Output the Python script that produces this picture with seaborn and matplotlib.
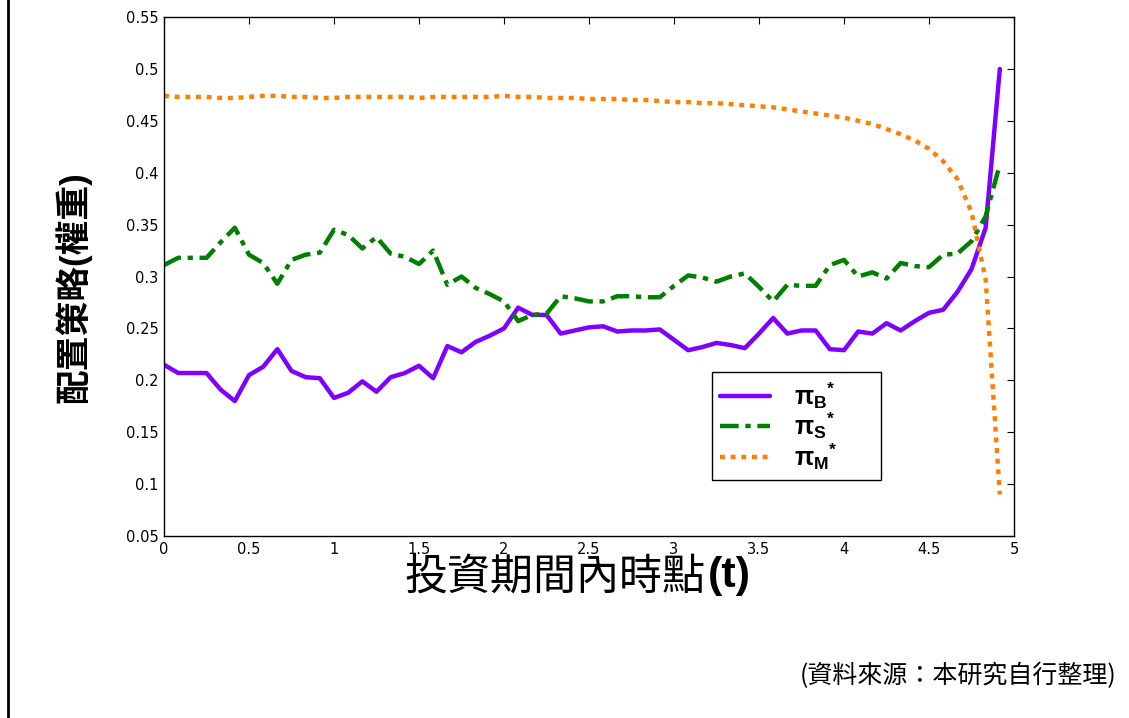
import numpy as np
import pandas as pd
import matplotlib
matplotlib.use("Agg")
import matplotlib.pyplot as plt
import seaborn as sns
from matplotlib.lines import Line2D
from matplotlib.ticker import MultipleLocator, FuncFormatter

# ---------------- data ----------------
months = list(range(60))
t = [m / 12 for m in months]

pi_B = [0.215, 0.207, 0.207, 0.207, 0.191, 0.180, 0.205, 0.213, 0.230, 0.209,
        0.203, 0.202, 0.183, 0.188, 0.199, 0.189, 0.203, 0.207, 0.214, 0.202,
        0.233, 0.227, 0.237, 0.243, 0.250, 0.270, 0.263, 0.263, 0.245, 0.248,
        0.251, 0.252, 0.247, 0.248, 0.248, 0.249, 0.239, 0.229, 0.232, 0.236,
        0.234, 0.231, 0.245, 0.260, 0.245, 0.248, 0.248, 0.230, 0.229, 0.247,
        0.245, 0.255, 0.248, 0.257, 0.265, 0.268, 0.285, 0.307, 0.347, 0.500]

pi_S = [0.311, 0.318, 0.318, 0.318, 0.333, 0.347, 0.321, 0.313, 0.293, 0.316,
        0.321, 0.323, 0.345, 0.340, 0.327, 0.338, 0.322, 0.319, 0.312, 0.325,
        0.292, 0.300, 0.289, 0.283, 0.276, 0.257, 0.263, 0.264, 0.281, 0.279,
        0.276, 0.276, 0.281, 0.281, 0.280, 0.280, 0.291, 0.301, 0.299, 0.295,
        0.300, 0.303, 0.290, 0.276, 0.292, 0.291, 0.291, 0.311, 0.316, 0.300,
        0.304, 0.298, 0.313, 0.310, 0.309, 0.321, 0.322, 0.334, 0.358, 0.408]

pi_M = [0.474, 0.473, 0.473, 0.473, 0.472, 0.472, 0.473, 0.474, 0.474, 0.473,
        0.473, 0.472, 0.472, 0.473, 0.473, 0.473, 0.473, 0.473, 0.472, 0.473,
        0.473, 0.473, 0.473, 0.473, 0.474, 0.473, 0.473, 0.472, 0.472, 0.472,
        0.471, 0.471, 0.471, 0.470, 0.470, 0.469, 0.468, 0.468, 0.467, 0.467,
        0.466, 0.465, 0.464, 0.463, 0.461, 0.459, 0.457, 0.455, 0.453, 0.450,
        0.447, 0.442, 0.437, 0.431, 0.423, 0.411, 0.394, 0.362, 0.297, 0.090]

series_names = ["B", "S", "M"]
series_labels = [r"π$_{\mathbf{B}}$$^{\mathbf{*}}$      ",
                 r"π$_{\mathbf{S}}$$^{\mathbf{*}}$      ",
                 r"π$_{\mathbf{M}}$$^{\mathbf{*}}$      "]
colors = {"B": "#8000FF", "S": "#008000", "M": "#FF8000"}
dash_styles = {"B": "", "S": (4.2, 1.5, 1.2, 1.5), "M": (1.1, 1.3)}

df = pd.concat([
    pd.DataFrame({"t": t, "w": pi_B, "series": "B"}),
    pd.DataFrame({"t": t, "w": pi_S, "series": "S"}),
    pd.DataFrame({"t": t, "w": pi_M, "series": "M"}),
], ignore_index=True)

# ---------------- style ----------------
sns.set_style("white")
plt.rcParams["font.family"] = ["Liberation Sans", "Noto Sans CJK TC", "DejaVu Sans"]
plt.rcParams["mathtext.fontset"] = "custom"
plt.rcParams["mathtext.rm"] = "Liberation Sans"
plt.rcParams["mathtext.bf"] = "Liberation Sans:bold"
plt.rcParams["mathtext.it"] = "Liberation Sans:italic"
plt.rcParams["text.color"] = "black"
plt.rcParams["axes.labelcolor"] = "black"

fig = plt.figure(figsize=(11.29, 7.18), dpi=100)
ax = fig.add_axes([164 / 1129, 1 - 536 / 718, 850 / 1129, 519 / 718])

sns.lineplot(data=df, x="t", y="w", hue="series", style="series",
             hue_order=series_names, style_order=series_names,
             palette=colors, dashes=dash_styles, linewidth=3.2,
             sort=False, legend=False, ax=ax)

ax.set_xlim(0, 5)
ax.set_ylim(0.05, 0.55)
ax.xaxis.set_major_locator(MultipleLocator(0.5))
ax.yaxis.set_major_locator(MultipleLocator(0.05))
fmt = FuncFormatter(lambda v, p: f"{v:g}")
ax.xaxis.set_major_formatter(fmt)
ax.yaxis.set_major_formatter(fmt)
ax.tick_params(direction="in", length=5, width=0.8, top=True, right=True,
               labelsize=10.5, colors="black", pad=4)
for lab in ax.get_xticklabels() + ax.get_yticklabels():
    lab.set_family("DejaVu Sans")
for s in ax.spines.values():
    s.set_visible(True)
    s.set_color("black")
    s.set_linewidth(1.0)
ax.set_xlabel("")
ax.set_ylabel("")

# axis labels: CJK part + bold "(t)"
split_x = 706 / 1129
fig.text(split_x, 1 - 578 / 718, "投資期間內時點", ha="right", va="center",
         fontsize=31, color="black", family=["Noto Sans CJK TC", "DejaVu Sans"])
fig.text(split_x + 2 / 1129, 1 - 576 / 718, "(t)", ha="left", va="center",
         fontsize=31, fontweight="bold", color="black",
         family=["Liberation Sans", "DejaVu Sans"])
fig.text(73 / 1129, 1 - 287 / 718, "配置策略(權重)", ha="center", va="center",
         rotation=90, fontsize=25, fontweight="bold", color="black",
         family=["Liberation Sans", "Noto Sans CJK TC"])

# legend
leg = ax.legend(handles=ax.lines[:3], labels=series_labels,
                loc="upper left", bbox_to_anchor=((712 - 164) / 850, (536 - 372) / 519),
                prop={"size": 18, "weight": "bold", "family": "Liberation Sans"},
                frameon=True, fancybox=False, framealpha=1,
                edgecolor="black", handlelength=2.0, handletextpad=0.95,
                borderpad=0.32, labelspacing=0.0, borderaxespad=0)
leg.get_frame().set_linewidth(1.0)
for txt in leg.get_texts():
    txt.set_color("black")

# source note
fig.text(1117 / 1129, 1 - 676 / 718, "(資料來源：本研究自行整理)", ha="right", va="center",
         fontsize=18, color="black", family=["Noto Sans CJK TC", "DejaVu Sans"])

# page border on the left
fig.add_artist(Line2D([8 / 1129, 8 / 1129], [0, 1], color="black", lw=2,
                      transform=fig.transFigure))

fig.savefig("out.png", dpi=100)
